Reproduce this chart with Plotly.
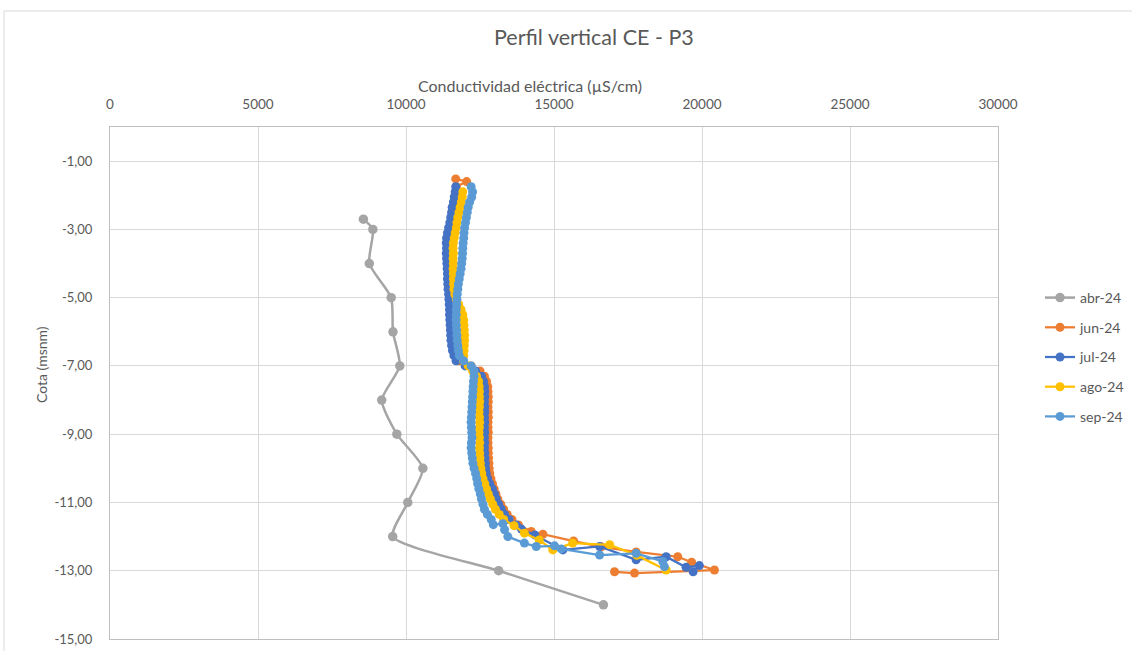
import plotly.graph_objects as go

# ---------------- data ----------------
abr_depth = [-2.70, -3.00, -4.00, -5.00, -6.00, -7.00, -8.00, -9.00, -10.00, -11.00, -12.00, -13.00, -14.00]
abr_ce = [8560, 8880, 8760, 9500, 9560, 9790, 9180, 9690, 10570, 10060, 9550, 13130, 16670]

depth_upper = [-1.60, -1.75, -1.90, -2.05, -2.20, -2.35, -2.50, -2.65, -2.80, -2.95,
               -3.10, -3.25, -3.40, -3.55, -3.70, -3.85, -4.00, -4.15, -4.30, -4.45,
               -4.60, -4.75, -4.90, -5.05, -5.20, -5.35, -5.50, -5.65, -5.80, -5.95,
               -6.10, -6.25, -6.40, -6.55, -6.70, -6.85, -7.00, -7.15, -7.30, -7.45,
               -7.60, -7.75, -7.90, -8.05, -8.20, -8.35, -8.50, -8.65, -8.80, -8.95,
               -9.10, -9.25, -9.40, -9.55, -9.70, -9.85, -10.00, -10.15, -10.30, -10.45,
               -10.60, -10.75, -10.90, -11.05, -11.20, -11.35, -11.50]

jun_head_depth = [-1.52]
jun_head_ce = [11680]
jun_upper = [12050, 11700, 11680, 11660, 11640, 11620, 11600, 11580, 11550, 11520,
             11480, 11450, 11440, 11450, 11440, 11450, 11460, 11450, 11470, 11460,
             11480, 11490, 11500, 11510, 11520, 11520, 11530, 11540, 11540, 11550,
             11560, 11570, 11590, 11620, 11680, 11800, 12200, 12500, 12650, 12720,
             12760, 12770, 12780, 12780, 12770, 12780, 12780, 12770, 12770, 12780,
             12770, 12770, 12780, 12780, 12790, 12800, 12810, 12830, 12870, 12920,
             12980, 13040, 13100, 13200, 13300, 13420, 13580]
jun_tail_depth = [-11.66, -11.85, -11.93, -12.13, -12.30, -12.45, -12.59, -12.75, -12.98, -13.07, -13.03]
jun_tail_ce = [13800, 14230, 14625, 15660, 16600, 17775, 19180, 19650, 20420, 17720, 17045]

jul_upper = [None, 11680, 11660, 11630, 11600, 11560, 11540, 11510, 11480, 11440,
             11400, 11370, 11360, 11370, 11360, 11370, 11380, 11390, 11400, 11400,
             11410, 11420, 11440, 11450, 11460, 11470, 11470, 11480, 11490, 11500,
             11510, 11520, 11540, 11570, 11620, 11690, 12000, 12350, 12550, 12620,
             12650, 12660, 12660, 12650, 12660, 12660, 12650, 12660, 12650, 12660,
             12650, 12660, 12650, 12660, 12670, 12680, 12690, 12710, 12760, 12830,
             12920, 12990, 13050, 13130, 13220, 13330, 13480]
jul_tail_depth = [-11.66, -11.78, -11.95, -12.39, -12.29, -12.68, -12.59, -12.90, -12.85, -13.03]
jul_tail_ce = [13725, 13900, 14350, 15300, 16540, 17775, 18790, 19460, 19910, 19700]

ago_upper = [None, None, 11920, 11900, 11870, 11830, 11790, 11750, 11720, 11700,
             11660, 11630, 11600, 11590, 11600, 11590, 11600, 11590, 11600, 11600,
             11610, 11620, 11650, 11700, 11780, 11860, 11920, 11950, 11960, 11970,
             11980, 11980, 11970, 11960, 11950, 11940, 12100, 12250, 12380, 12450,
             12470, 12480, 12480, 12490, 12480, 12470, 12480, 12490, 12480, 12470,
             12480, 12490, 12480, 12490, 12500, 12510, 12530, 12560, 12600, 12660,
             12720, 12780, 12850, 12930, 13020, 13150, 13300]
ago_tail_depth = [-11.68, -11.90, -12.10, -12.39, -12.19, -12.24, -12.55, -12.98]
ago_tail_ce = [13650, 14000, 14500, 14960, 15630, 16880, 17800, 18790]

sep_upper = [None, 12200, 12250, 12220, 12150, 12100, 12070, 12040, 12010, 11980,
             11960, 11950, 11930, 11920, 11910, 11900, 11880, 11860, 11830, 11800,
             11770, 11750, 11730, 11720, 11710, 11700, 11700, 11690, 11700, 11710,
             11720, 11730, 11750, 11770, 11800, 11950, 12200, 12300, 12300, 12280,
             12270, 12260, 12250, 12240, 12230, 12220, 12210, 12200, 12210, 12220,
             12230, 12210, 12200, 12220, 12240, 12260, 12300, 12350, 12390, 12420,
             12460, 12510, 12550, 12600, 12650, 12750, 12880]
sep_tail_depth = [-11.65, -11.62, -11.80, -12.00, -12.19, -12.29, -12.27, -12.36, -12.54, -12.49, -12.73, -12.88]
sep_tail_ce = [12950, 13270, 13330, 13440, 14000, 14400, 15020, 15245, 16540, 17775, 18675, 18730]

series_names = ["abr-24", "jun-24", "jul-24", "ago-24", "sep-24"]
series_colors = ["#a5a5a5", "#ed7d31", "#4472c4", "#ffc000", "#5b9bd5"]

x_tick_vals = [0, 5000, 10000, 15000, 20000, 25000, 30000]
y_tick_vals = [-1, -3, -5, -7, -9, -11, -13, -15]
y_tick_labels = ["-1,00", "-3,00", "-5,00", "-7,00", "-9,00", "-11,00", "-13,00", "-15,00"]

# ---------------- layout helpers ----------------
L, R, T, B = 110, 998, 127, 639
W, H = 1132, 651


def pxx(px):
    return (px - L) / (R - L)


def pxy(py):
    return (B - py) / (B - T)


def pair(upper_depth, upper_ce, tail_depth, tail_ce):
    d, c = [], []
    for dd, cc in zip(upper_depth, upper_ce):
        if cc is not None:
            d.append(dd)
            c.append(cc)
    return d + tail_depth, c + tail_ce


FONT = "Lato, 'Open Sans', sans-serif"
TXT = "#595959"

fig = go.Figure()

fig.add_trace(go.Scatter(
    x=abr_ce, y=abr_depth, name=series_names[0], mode="lines+markers",
    line=dict(color=series_colors[0], width=2.5, shape="spline", smoothing=0.6),
    marker=dict(color=series_colors[0], size=9.5), legendgroup="g0"))

jun_d, jun_c = pair(depth_upper, jun_upper, jun_tail_depth, jun_tail_ce)
jun_d, jun_c = jun_head_depth + jun_d, jun_head_ce + jun_c
jul_d, jul_c = pair(depth_upper, jul_upper, jul_tail_depth, jul_tail_ce)
ago_d, ago_c = pair(depth_upper, ago_upper, ago_tail_depth, ago_tail_ce)
sep_d, sep_c = pair(depth_upper, sep_upper, sep_tail_depth, sep_tail_ce)

for i, (d, c) in enumerate([(jun_d, jun_c), (jul_d, jul_c), (ago_d, ago_c), (sep_d, sep_c)], start=1):
    fig.add_trace(go.Scatter(
        x=c, y=d, name=series_names[i], mode="lines+markers",
        line=dict(color=series_colors[i], width=2.25),
        marker=dict(color=series_colors[i], size=9), legendgroup="g%d" % i))

fig.update_layout(
    width=W, height=H,
    margin=dict(l=L, r=W - R, t=T, b=H - B, pad=0, autoexpand=False),
    paper_bgcolor="white", plot_bgcolor="white",
    font=dict(family=FONT, color=TXT, size=13),
    showlegend=True,
    legend=dict(x=pxx(1040), y=pxy(357), xanchor="left", yanchor="middle",
                font=dict(size=14, color=TXT, family=FONT), tracegroupgap=8.5,
                bgcolor="rgba(0,0,0,0)", itemwidth=30),
    xaxis=dict(range=[0, 30000], side="top", tickvals=x_tick_vals, tickformat="d",
               showgrid=True, gridcolor="#d9d9d9", gridwidth=1, zeroline=False,
               showline=True, linecolor="#bfbfbf", linewidth=1, mirror=True,
               ticks="", ticklabelstandoff=12, automargin=False,
               tickfont=dict(size=13.5, color=TXT, family=FONT)),
    yaxis=dict(range=[-15, 0], tickvals=y_tick_vals, ticktext=y_tick_labels,
               showgrid=True, gridcolor="#d9d9d9", gridwidth=1, zeroline=False,
               showline=True, linecolor="#bfbfbf", linewidth=1, mirror=True,
               ticks="", ticklabelstandoff=14, automargin=False,
               tickfont=dict(size=13, color=TXT, family=FONT)),
    annotations=[
        dict(text="Perfil vertical CE - P3", x=pxx(594), y=pxy(37), xref="paper", yref="paper",
             showarrow=False, xanchor="center", yanchor="middle",
             font=dict(size=21.5, color=TXT, family=FONT)),
        dict(text="Conductividad eléctrica (µS/cm)", x=pxx(530), y=pxy(85), xref="paper", yref="paper",
             showarrow=False, xanchor="center", yanchor="middle",
             font=dict(size=16, color=TXT, family=FONT)),
        dict(text="Cota (msnm)", x=pxx(41), y=pxy(365), xref="paper", yref="paper",
             showarrow=False, xanchor="center", yanchor="middle", textangle=-90,
             font=dict(size=14, color=TXT, family=FONT)),
    ],
    shapes=[
        dict(type="line", xref="paper", yref="paper", x0=pxx(4), x1=pxx(1132), y0=pxy(11), y1=pxy(11),
             line=dict(color="#d9d9d9", width=1)),
        dict(type="line", xref="paper", yref="paper", x0=pxx(4), x1=pxx(4), y0=pxy(11), y1=pxy(651),
             line=dict(color="#d9d9d9", width=1)),
    ],
)

fig.write_html("out.html", config={"displayModeBar": False},
               post_script="document.body.style.margin='0';document.body.style.padding='0';")
